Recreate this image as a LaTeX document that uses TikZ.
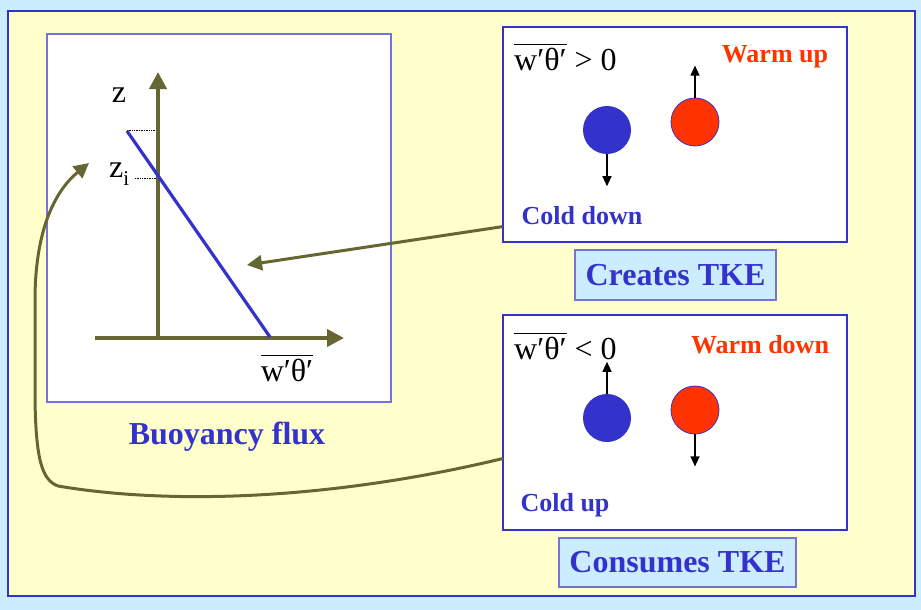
\documentclass[tikz,border=0pt]{standalone}
\usepackage{fontspec}
\setmainfont{Liberation Serif}
\usetikzlibrary{arrows.meta}
\definecolor{bgblue}{HTML}{CCECFF}
\definecolor{paleyellow}{HTML}{FFFFCC}
\definecolor{frameblue}{HTML}{3333CC}
\definecolor{softblue}{HTML}{7373D9}
\definecolor{olive}{HTML}{666633}
\definecolor{hotred}{HTML}{FF3300}
\tikzset{
  panel/.style={draw=frameblue, line width=1.3pt, fill=white, inner sep=0pt},
  chartbox/.style={draw=softblue, line width=1.1pt, fill=white, inner sep=0pt},
  tagbox/.style={draw=softblue, line width=1.1pt, fill=bgblue, inner sep=0pt,
     font=\fontsize{32}{36}\selectfont\bfseries, text=frameblue},
  axis/.style={olive, line width=4pt, -{Triangle[length=17pt,width=17pt]}},
  link/.style={olive, line width=3pt, -{Triangle[length=15pt,width=15pt]}},
  move/.style={black, line width=1.2pt, -{Triangle[length=10pt,width=9pt]}},
  coldball/.style={circle, fill=frameblue, minimum size=48pt, inner sep=0pt},
  warmball/.style={circle, fill=hotred, draw=frameblue, line width=0.8pt, minimum size=48pt, inner sep=0pt},
  bluelabel/.style={font=\fontsize{26}{30}\selectfont\bfseries, text=frameblue, inner sep=0pt},
  redlabel/.style={font=\fontsize{26}{30}\selectfont\bfseries, text=hotred, inner sep=0pt},
  mathlabel/.style={font=\fontsize{32}{36}\selectfont, inner sep=0pt},
}
\newcommand{\flux}{$\overline{\hbox{\rule{0pt}{0.78em}w′θ′}}$}
\begin{document}
\begin{tikzpicture}[x=1pt,y=-1pt]
\useasboundingbox (0,0) rectangle (921,610);
\fill[bgblue] (0,0) rectangle (921,610);
\draw[frameblue, line width=2pt, fill=paleyellow] (8,11) rectangle (915,596);

% left chart
\node[chartbox, minimum width=344pt, minimum height=368pt] (chart) at (219,218) {};
\draw[densely dotted, line width=0.7pt] (127,130) -- (158,130);
\draw[densely dotted, line width=0.7pt] (135,178) -- (158,178);
\draw[axis] (158,338) -- (158,72);
\draw[axis] (95,338) -- (344,338);
\draw[frameblue, line width=3.2pt] (127,131) -- (270,337);
\node[mathlabel] (zlab) at (119,95) {z};
\node[mathlabel, anchor=west] (zilab) at (109,174) {z\raisebox{-8pt}{\fontsize{21}{21}\selectfont i}};
\node[mathlabel] (xlab) at (287,368) {\flux};
\node[font=\fontsize{32}{36}\selectfont\bfseries, text=frameblue, inner sep=0pt] (btitle) at (227,437) {Buoyancy flux};

% upper right panel
\node[panel, minimum width=344pt, minimum height=215pt] (up) at (675,134.5) {};
\node[mathlabel, anchor=west] (upeq) at (514,57) {\flux{} > 0};
\node[redlabel] (warmup) at (775,57) {Warm up};
\node[coldball] (c1) at (607,130) {};
\node[warmball] (w1) at (695,122) {};
\draw[move] (c1.south) -- ++(0,32);
\draw[move] (w1.north) -- ++(0,-32);
\node[bluelabel] (colddown) at (582,216) {Cold down};
\node[tagbox, minimum width=201pt, minimum height=50pt] (creates) at (675.5,275) {Creates TKE};

% lower right panel
\node[panel, minimum width=344pt, minimum height=215pt] (low) at (675,422.5) {};
\node[mathlabel, anchor=west] (loweq) at (514,346) {\flux{} < 0};
\node[redlabel] (warmdown) at (760,345) {Warm down};
\node[coldball] (c2) at (607,418) {};
\node[warmball] (w2) at (695,410) {};
\draw[move] (c2.north) -- ++(0,-32);
\draw[move] (w2.south) -- ++(0,32);
\node[bluelabel] (coldup) at (565,505) {Cold up};
\node[tagbox, minimum width=237pt, minimum height=49pt] (consumes) at (677.5,562.5) {Consumes TKE};

% connectors
\coordinate (tgtA) at (247,265);
\coordinate (tgtB) at (89,163);
\draw[link] ([yshift=16pt]up.south west) -- (tgtA);
\draw[link, line cap=round] ([yshift=72pt]low.south west)
   .. controls (330,500) and (170,505) .. (58,486)
   .. controls (42,480) and (36,460) .. (35,400)
   -- (35,300)
   .. controls (35,240) and (50,195) .. (tgtB);
\end{tikzpicture}
\end{document}
